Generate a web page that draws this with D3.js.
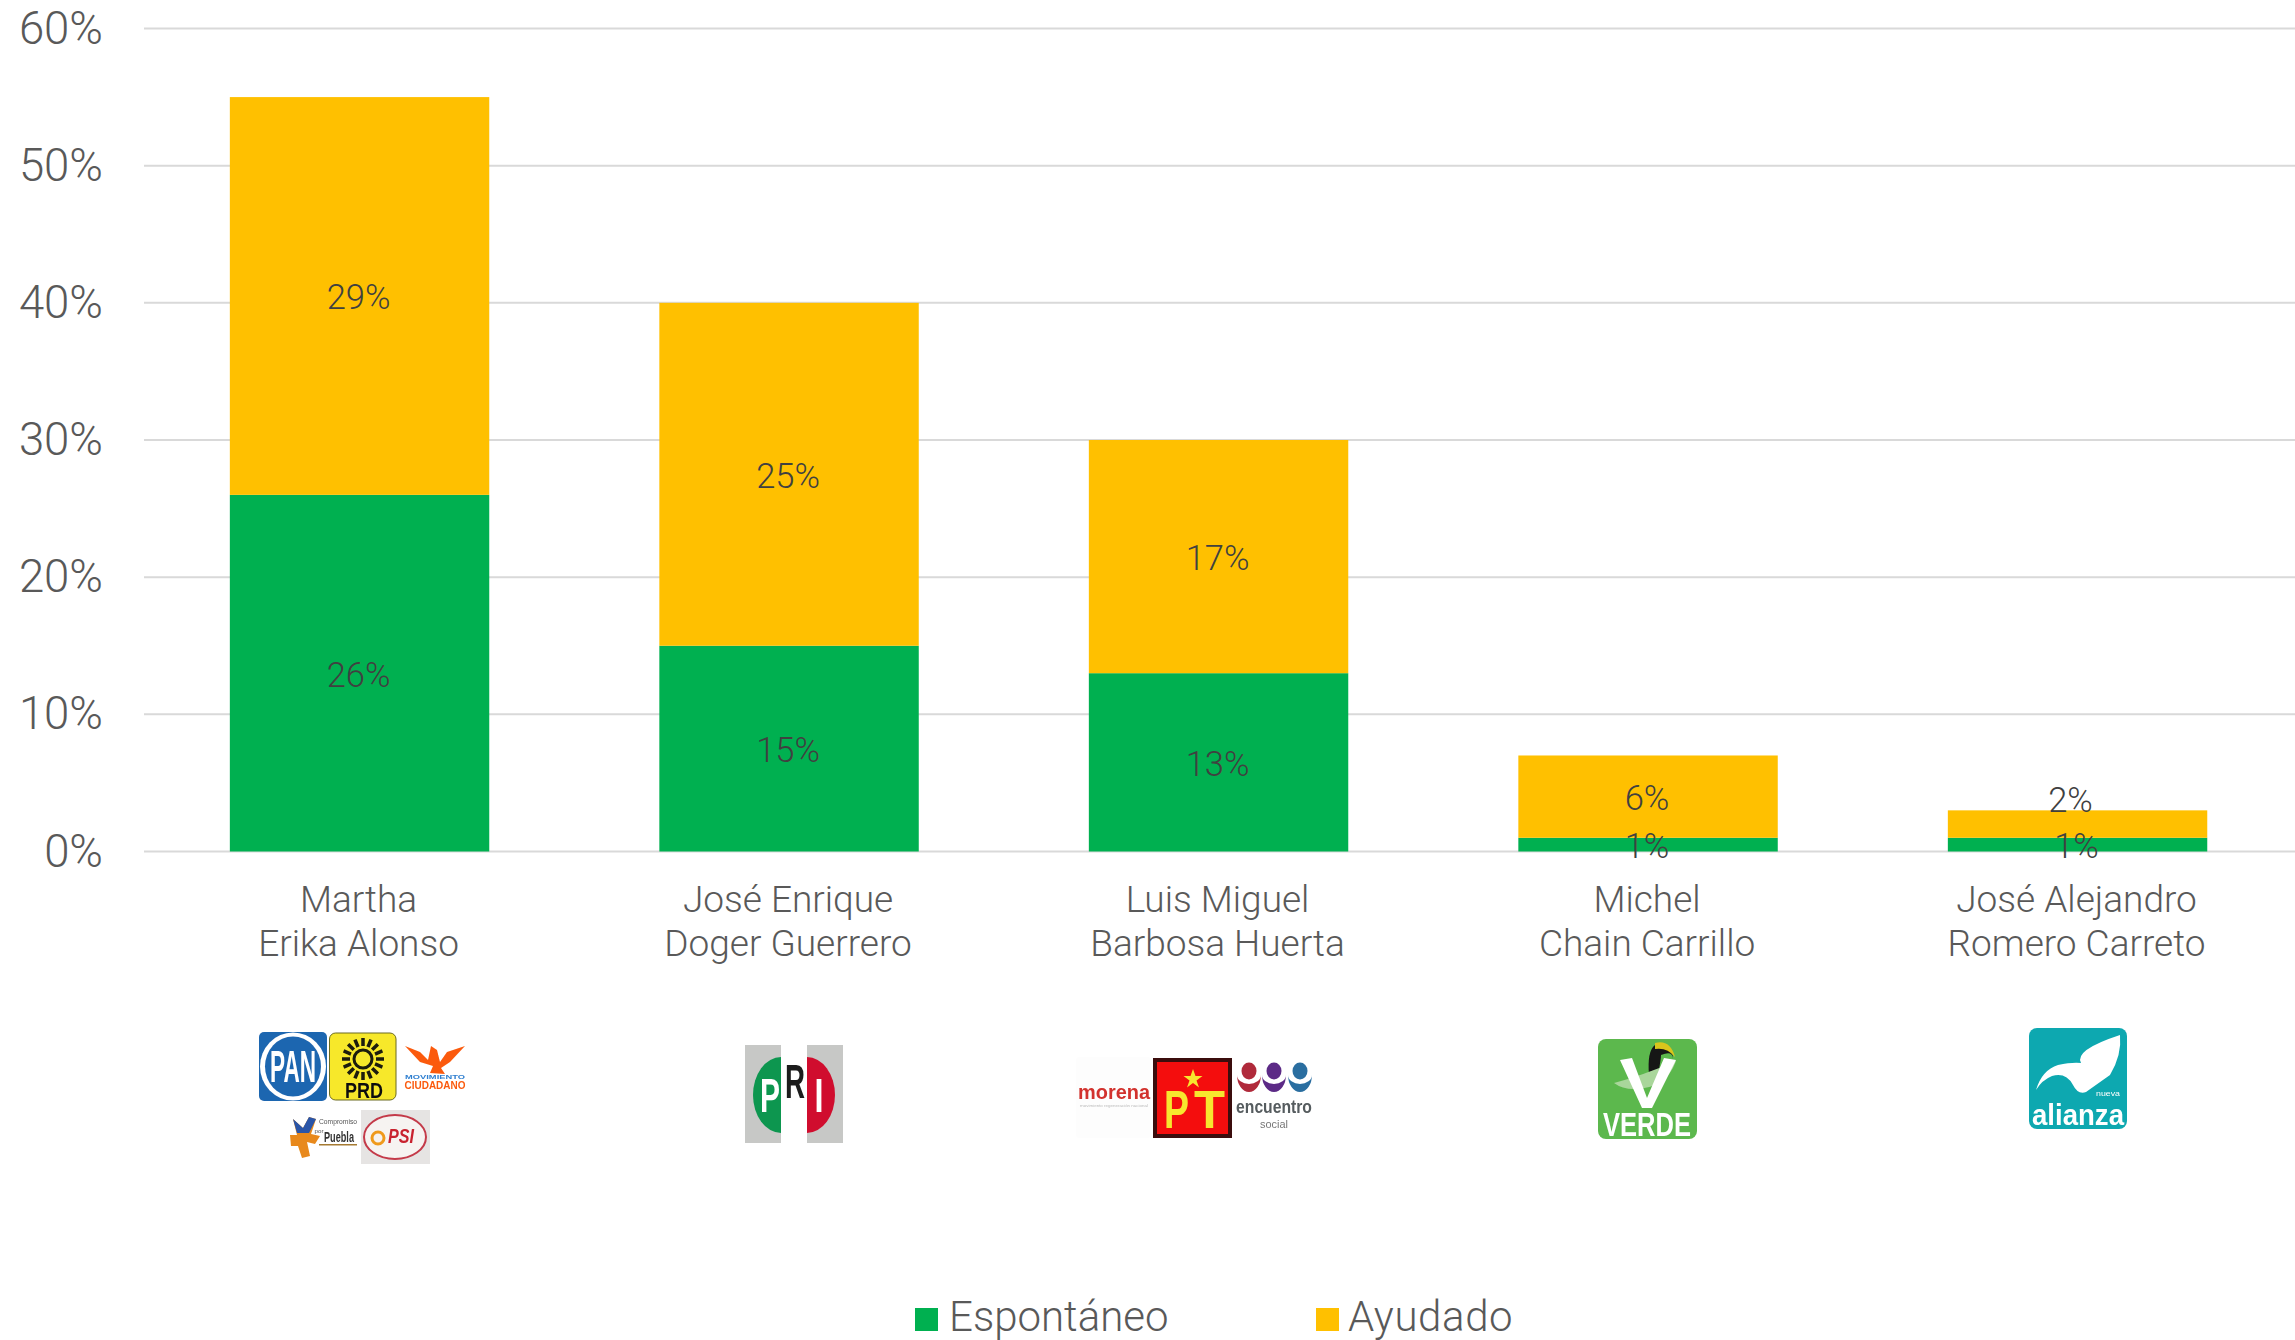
<!DOCTYPE html>
<html lang="es"><head><meta charset="utf-8">
<script src="https://cdnjs.cloudflare.com/ajax/libs/d3/7.9.0/d3.min.js"></script>
<style>
html,body{margin:0;padding:0;background:#fff;overflow:hidden}
svg{display:block}
text{font-family:"Roboto","Liberation Sans",sans-serif;font-weight:300;fill:#595959}
.logo text{font-family:"Liberation Sans",sans-serif;font-weight:700}
</style></head><body>
<svg id="c" width="2295" height="1340" xmlns="http://www.w3.org/2000/svg"></svg>
<script>
const categories=[["Martha","Erika Alonso"],["José Enrique","Doger Guerrero"],["Luis Miguel","Barbosa Huerta"],["Michel","Chain Carrillo"],["José Alejandro","Romero Carreto"]];
const seriesNames=["Espontáneo","Ayudado"];
const espontaneo=[26,15,13,1,1];
const ayudado=[29,25,17,6,2];
const yTicks=[0,10,20,30,40,50,60];
const colors=["#00B050","#FFC000"];

const svg=d3.select("#c");
const names=categories.map(c=>c.join(" "));
const x=d3.scaleBand().domain(names).range([144.8,2292.3]).paddingInner(0.396).paddingOuter(0.198);
const y=d3.scaleLinear().domain([0,60]).range([851.5,28.5]);

// y axis + grid
const yAxis=d3.axisLeft(y).tickValues(yTicks).tickFormat(d=>d+"%").tickSize(0).tickPadding(41);
const gy=svg.append("g").attr("transform","translate(144,0)").call(yAxis);
gy.select(".domain").remove();
gy.selectAll("text").attr("font-size",45.5).style("fill","#595959");
svg.append("g").selectAll("line").data(yTicks).join("line")
  .attr("x1",144).attr("x2",2295).attr("y1",d=>y(d)).attr("y2",d=>y(d))
  .attr("stroke","#d9d9d9").attr("stroke-width",2);

// stacked bars
const rows=names.map((n,i)=>({name:n,[seriesNames[0]]:espontaneo[i],[seriesNames[1]]:ayudado[i]}));
const stacked=d3.stack().keys(seriesNames)(rows);
svg.append("g").selectAll("g").data(stacked).join("g").attr("fill",(d,i)=>colors[i])
  .selectAll("rect").data(d=>d).join("rect")
  .attr("x",d=>x(d.data.name)).attr("width",x.bandwidth())
  .attr("y",d=>y(d[1])).attr("height",d=>y(d[0])-y(d[1]));

// data labels
const labelShift={"4-1":[-6,-26]};
stacked.forEach((s,si)=>{
  svg.append("g").selectAll("text").data(s).join("text")
    .attr("text-anchor","middle").attr("font-size",34.5).style("fill","#404040")
    .attr("x",(d,i)=>x(d.data.name)+x.bandwidth()/2-1+(labelShift[i+"-"+si]||[0,0])[0])
    .attr("y",(d,i)=>(y(d[0])+y(d[1]))/2+13.5+(labelShift[i+"-"+si]||[0,0])[1])
    .text(d=>(d[1]-d[0])+"%");
});

// category labels
const xg=svg.append("g").selectAll("text").data(categories).join("text")
  .attr("text-anchor","middle").attr("font-size",37)
  .attr("x",(d,i)=>x(names[i])+x.bandwidth()/2-1);
xg.selectAll("tspan").data(d=>d).join("tspan")
  .attr("x",function(){return this.parentNode.getAttribute("x")})
  .attr("y",(d,i)=>912+i*44).text(d=>d);

// legend
const legendPos=[915,1316];
const legendText=[949,1348];
const legendSpacing=[0,0.6];
const lg=svg.append("g").selectAll("g").data(seriesNames).join("g");
lg.append("rect").attr("x",(d,i)=>legendPos[i]).attr("y",1308).attr("width",23).attr("height",23).attr("fill",(d,i)=>colors[i]);
lg.append("text").attr("x",(d,i)=>legendText[i]).attr("y",1331).attr("font-size",42)
  .attr("letter-spacing",(d,i)=>legendSpacing[i]).text(d=>d);

// party logos (drawn approximations)
const defs=svg.append("defs");
defs.append("filter").attr("id","soft").append("feGaussianBlur").attr("stdDeviation",0.7);
const logos=svg.append("g").attr("class","logo").attr("filter","url(#soft)");
function R(x,y,w,h,f,r){return logos.append("rect").attr("x",x).attr("y",y).attr("width",w).attr("height",h).attr("fill",f).attr("rx",r||0)}
function C(x,y,rx,ry,f,s,sw){return logos.append("ellipse").attr("cx",x).attr("cy",y).attr("rx",rx).attr("ry",ry).attr("fill",f).attr("stroke",s||"none").attr("stroke-width",sw||0)}
function T(x,y,t,size,f,w,len){
  const e=logos.append("text").attr("text-anchor","middle").attr("font-size",size).style("fill",f).style("font-weight",w||700).text(t);
  const sx=len?len/e.node().getComputedTextLength():1;
  e.attr("transform",`translate(${x},${y}) scale(${sx},1)`);
  return e;
}
function P(d,f,s,sw){return logos.append("path").attr("d",d).attr("fill",f).attr("stroke",s||"none").attr("stroke-width",sw||0)}

// PAN
R(259,1032,68,69,"#1f66b0",5);C(293,1066.5,33,34,"#fff");C(293,1066.5,28,30,"#1f66b0");
T(293,1082,"PAN",44,"#fff",700,46);
// PRD
R(329.5,1033,66.5,67,"#f7e82a",6).attr("stroke","#6b6a20").attr("stroke-width",1);
d3.range(16).forEach(i=>{const a=i*Math.PI/8;logos.append("line").attr("x1",363+13*Math.cos(a)).attr("y1",1059+13*Math.sin(a)).attr("x2",363+21*Math.cos(a)).attr("y2",1059+21*Math.sin(a)).attr("stroke","#1a1a10").attr("stroke-width",3.5)});
C(363,1059,9,9,"none","#1a1a10",3);
T(364,1098,"PRD",22,"#111",700,38);
// MC
P("M405 1046 L420 1052 L428 1060 L431 1046 L437 1050 L440 1062 L447 1052 L465 1046 L450 1062 L441 1068 L445 1074 L430 1073 L433 1066 L420 1062 Z","#fb5a0c");
T(435,1079,"MOVIMIENTO",6,"#2f7fd0",700,60);
T(435,1089,"CIUDADANO",10,"#fb5a0c",700,61);
// Compromiso por Puebla
P("M293 1119 L303 1128 L309 1117 L316 1119 L311 1134 L320 1136 L315 1144 L307 1142 L310 1156 L302 1158 L298 1146 L291 1146 L290 1135 L297 1135 Z","#e8891a");
P("M293 1119 L303 1128 L309 1117 L316 1119 L309 1133 L297 1133 Z","#2a55a8");
T(338,1124,"Compromiso",8,"#555",400,38);
T(339,1142,"Puebla",14,"#333",700,30);
T(319,1133,"por",5,"#555",400,9);
R(319,1144,38,1.5,"#a57a30");
// PSI
R(361,1110,69,54,"#e6e4e3");C(395,1137,31,22,"#f6f3f1","#c43a4a",2);
T(401,1143,"PSI",20,"#c8202e",700,26).style("font-style","italic");
C(378,1138,6,6,"none","#ef9a1f",3);
// PRI
R(745,1045,36,98,"#c7c8c6");R(807,1045,36,98,"#c7c8c6");R(781,1045,26,98,"#fff");
P("M781 1057 A28 38 0 0 0 781 1133 Z","#0f9650");
P("M807 1057 A28 38 0 0 1 807 1133 Z","#d0102f");
T(770,1112,"P",48,"#fff",700,20);T(795,1098,"R",48,"#1c1c1c",700,20);T(819,1112,"I",48,"#fff",700,9);
// morena
R(1076,1057,75,81,"#fdfdfd",3);
T(1114,1099,"morena",21,"#d2322d",700,72);
T(1114,1107,"movimiento regeneración nacional",3,"#bbb",400,68);
// PT
R(1153,1058,79,80,"#3a0909");R(1157,1062,71,72,"#f40a10");
P("M1193 1069 l2.5 7 h7 l-6 4.5 l2.5 7 l-6 -4.5 l-6 4.5 l2.5 -7 l-6 -4.5 h7 Z","#f7e62e");
T(1176.5,1128,"P",53,"#f7e62e",700,25);T(1209.5,1128,"T",53,"#f7e62e",700,31);
// encuentro social
[[1249,"#b02a3a"],[1274,"#5b2a86"],[1300,"#2a6ea0"]].forEach(([cx,col],i)=>{
  C(cx,1071,7.5,8.5,col);
  P(`M${cx-12} 1075 A12 17 0 0 0 ${cx+12} 1075 A12 9 0 0 1 ${cx-12} 1075 Z`,col);
});
T(1274,1113,"encuentro",18,"#555b5e",700,76);
T(1274,1128,"social",11,"#777",400,28);
// VERDE
R(1598,1039,99,100,"#5cb84d",8);
P("M1655 1045 q-8 6 -6 30 l9 -1 q3 -14 3 -19 q12 -5 12 4 q0 -16 -18 -14 Z","#151515");
P("M1655 1043 q15 -4 20 14 q-8 -10 -20 -8 Z","#d9c51c");
P("M1614 1083 q30 -8 62 -22 q-10 28 -42 28 q-12 0 -20 -6 Z","#a9d69b");
P("M1620 1060 L1632 1058 L1647 1098 L1664 1058 L1676 1060 L1652 1108 L1642 1108 Z","#fff");
T(1647,1136,"VERDE",33,"#fff",700,88);
// alianza
R(2029,1028,98,101,"#0fa8b0",8);
P("M2036 1090 Q2042 1070 2058 1065 Q2072 1062 2081 1063 Q2074 1050 2120 1035 Q2122 1055 2110 1075 L2086 1092 Q2078 1095 2073 1085 Q2066 1072 2052 1076 Q2042 1080 2036 1090 Z","#fff");
T(2108,1096,"nueva",7,"#fff",400,24);
T(2078,1125,"alianza",30,"#fff",700,92);
</script>
</body></html>
